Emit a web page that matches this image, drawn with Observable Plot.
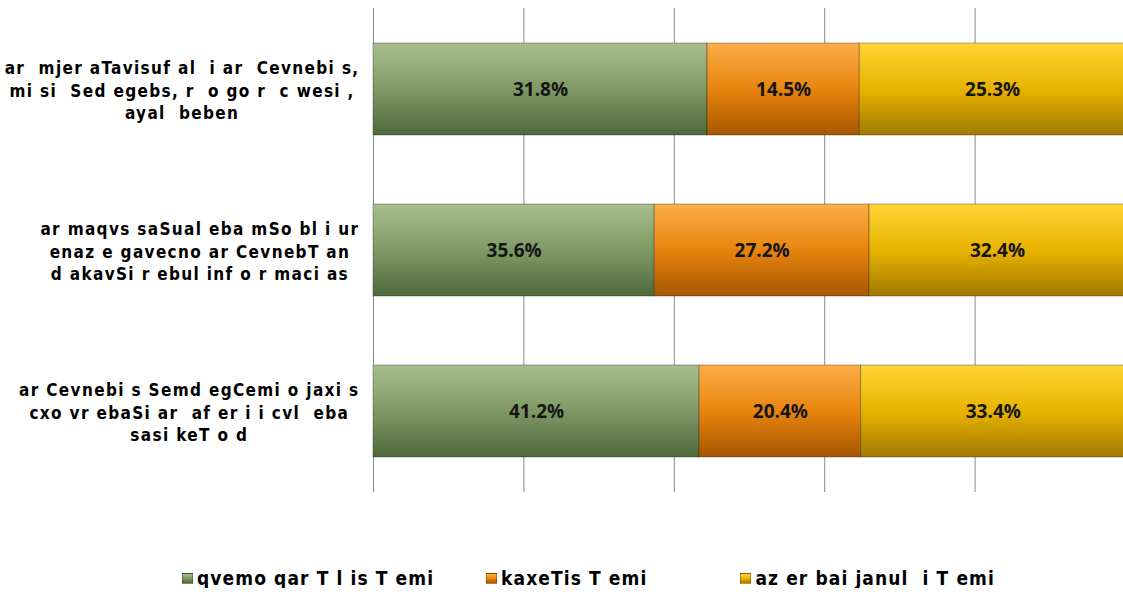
<!DOCTYPE html>
<html><head><meta charset="utf-8">
<script src="https://cdn.jsdelivr.net/npm/d3@7"></script>
<script src="https://cdn.jsdelivr.net/npm/@observablehq/plot@0.6"></script>
<style>
body{margin:0;background:#fff;}
#chart svg text{white-space:pre;}
#chart svg g[aria-label="y-axis tick label"] text{letter-spacing:1.35px;}
.legend{display:flex;justify-content:flex-start;padding-left:182px;padding-top:48px;font:bold 19px "DejaVu Sans Condensed","Liberation Sans",Arial,sans-serif;letter-spacing:1.1px;line-height:20px;white-space:pre;color:#000;}
.legend .item{display:flex;align-items:center;}
.legend .item:nth-child(1){margin-right:52px;}
.legend .item:nth-child(2){margin-right:93px;}
.legend .sw{display:inline-block;width:11px;height:11px;margin-right:4px;box-sizing:border-box;border:1px solid rgba(0,0,0,0.25);}
</style></head><body>
<div id="chart"></div>
<script>
// categories (y axis), top to bottom
const categories = [
  "ar  mjer aTavisuf al  i ar  Cevnebi s,\nmi si  Sed egebs, r  o go r  c wesi ,\nayal  beben",
  "ar maqvs saSual eba mSo bl i ur\nenaz e gavecno ar CevnebT an\nd akavSi r ebul inf o r maci as",
  "ar Cevnebi s Semd egCemi o jaxi s\ncxo vr ebaSi ar  af er i i cvl  eba\nsasi keT o d"
];
// series names (legend)
const seriesNames = ["qvemo qar T l is T emi", "kaxeTis T emi", "az er bai janul  i T emi"];
// series values (%), one per category
const qvemoQartli = [31.8, 35.6, 41.2];
const kakheti = [14.5, 27.2, 20.4];
const azerbaijani = [25.3, 32.4, 33.4];
// gridline positions (share of the 100% stacked bar)
const gridTicks = [0, 0.2, 0.4, 0.6, 0.8, 1];

const seriesValues = [qvemoQartli, kakheti, azerbaijani];
const gradients = [
  {id: "gGreen", stops: ["#a7bf8e", "#7f9966", "#4e693b"]},
  {id: "gOrange", stops: ["#fcae48", "#e8840e", "#a65700"]},
  {id: "gYellow", stops: ["#fdd633", "#e8b300", "#a07a00"]}
];

const table = categories.flatMap((c, i) =>
  seriesNames.map((s, j) => ({cat: c, series: s, value: seriesValues[j][i]}))
);

const fontLabels = '"DejaVu Sans Condensed","Liberation Sans",Arial,sans-serif';

const svg = Plot.plot({
  width: 1123,
  height: 520,
  marginLeft: 373,
  marginRight: -2,
  marginTop: 8,
  marginBottom: 28,
  style: {fontFamily: fontLabels, background: "#fff"},
  x: {domain: [0, 1], axis: null},
  y: {domain: categories, paddingInner: 0.43, paddingOuter: 0.215, label: null, axis: null},
  color: {domain: seriesNames, range: gradients.map(g => `url(#${g.id})`)},
  marks: [
    Plot.ruleX(gridTicks, {stroke: "#8a8a8a", strokeWidth: 1}),
    Plot.barX(table, Plot.stackX({
      x: "value", y: "cat", z: "series", fill: "series", offset: "normalize",
      stroke: "#000", strokeOpacity: 0.3, strokeWidth: 1, ariaLabel: "bars"
    })),
    Plot.text(table, Plot.stackX({
      x: "value", y: "cat", z: "series", offset: "normalize",
      text: d => d.value.toFixed(1) + "%",
      fill: "#151515", fontWeight: "bold", fontSize: 19, fontFamily: '"Open Sans", sans-serif'
    })),
    Plot.axisY({
      tickSize: 0, tickPadding: 14, fontSize: 17, fontWeight: "bold",
      lineHeight: 1.32, fill: "#000", ariaLabel: "y-axis"
    })
  ]
});

// gradients + shadow
const defs = d3.select(svg).insert("defs", ":first-child");
gradients.forEach(g => {
  const lg = defs.append("linearGradient").attr("id", g.id)
    .attr("x1", 0).attr("y1", 0).attr("x2", 0).attr("y2", 1);
  g.stops.forEach((c, k) => lg.append("stop")
    .attr("offset", k / (g.stops.length - 1)).attr("stop-color", c));
});
const f = defs.append("filter").attr("id", "shadow")
  .attr("x", "-5%").attr("y", "-20%").attr("width", "110%").attr("height", "150%");
f.append("feDropShadow").attr("dx", 0).attr("dy", 3).attr("stdDeviation", 2.5)
  .attr("flood-color", "#000").attr("flood-opacity", 0.35);
d3.select(svg).selectAll('g[aria-label="bars"]').attr("filter", "url(#shadow)");

document.getElementById("chart").appendChild(svg);

// center the lines of each category label, keeping the block right-aligned
d3.select(svg).selectAll('g[aria-label="y-axis tick label"] text').each(function() {
  const w = this.getBBox().width;
  d3.select(this).attr("text-anchor", "middle");
  d3.select(this).selectAll("tspan").attr("x", -w / 2);
  if (this.querySelectorAll("tspan").length === 0) d3.select(this).attr("x", -w / 2);
});

// legend
const legend = d3.select("body").append("div").attr("class", "legend");
seriesNames.forEach((s, j) => {
  const it = legend.append("div").attr("class", "item");
  const st = gradients[j].stops;
  it.append("span").attr("class", "sw")
    .style("background", `linear-gradient(${st[0]}, ${st[1]}, ${st[2]})`);
  it.append("span").text(s);
});
</script>
</body></html>
